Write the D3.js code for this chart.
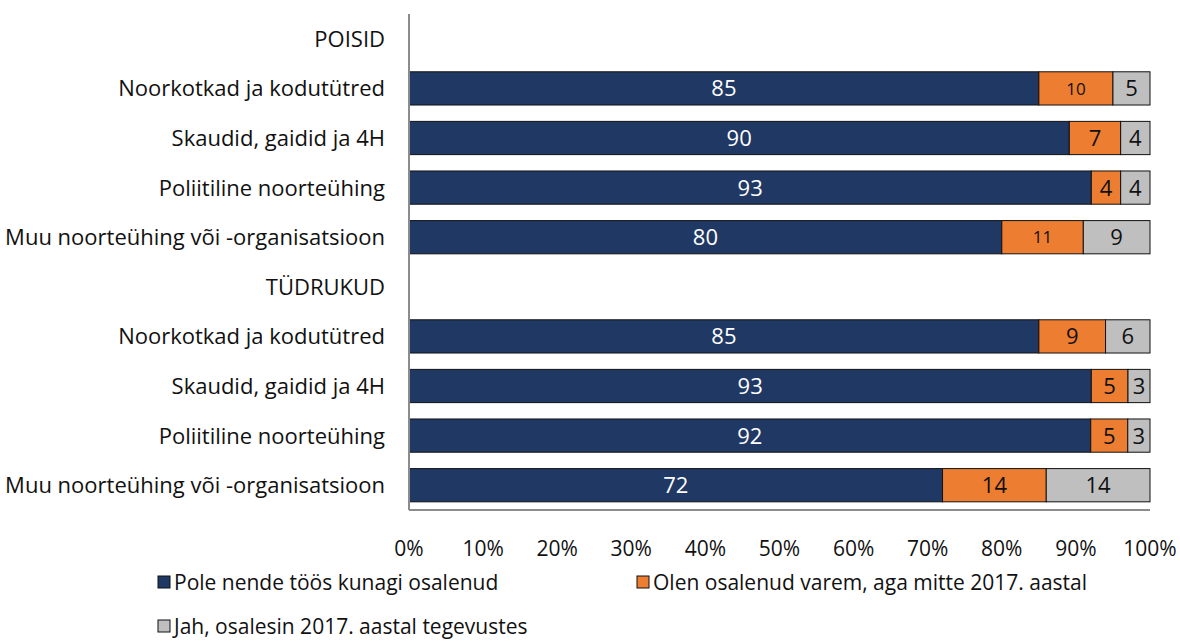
<!DOCTYPE html>
<html>
<head>
<meta charset="utf-8">
<script src="https://cdn.jsdelivr.net/npm/d3@7"></script>
<style>
  body { margin: 0; background: #fff; }
  svg text { font-family: "Open Sans", Lato, sans-serif; fill: #111; }
</style>
</head>
<body>
<svg id="chart" width="1180" height="642"></svg>
<script>
// rows, top to bottom; group headers have no values
const categories = [
    "POISID",
    "Noorkotkad ja kodutütred",
    "Skaudid, gaidid ja 4H",
    "Poliitiline noorteühing",
    "Muu noorteühing või -organisatsioon",
    "TÜDRUKUD",
    "Noorkotkad ja kodutütred ",
    "Skaudid, gaidid ja 4H ",
    "Poliitiline noorteühing ",
    "Muu noorteühing või -organisatsioon "
];
const headers = ["POISID", "TÜDRUKUD"];

const seriesNames = [
    "Pole nende töös kunagi osalenud",
    "Olen osalenud varem, aga mitte 2017. aastal",
    "Jah, osalesin 2017. aastal tegevustes"
];
const neverValues = [null, 85, 90, 93, 80, null, 85, 93, 92, 72];
const earlierValues = [null, 10, 7, 4, 11, null, 9, 5, 5, 14];
const in2017Values = [null, 5, 4, 4, 9, null, 6, 3, 3, 14];

const tickLabels = ["0%", "10%", "20%", "30%", "40%", "50%", "60%", "70%", "80%", "90%", "100%"];
const colors = ["#203864", "#ED7D31", "#BFBFBF"];

const svg = d3.select("#chart");
const margin = { top: 14, right: 30, bottom: 132, left: 409 };
const width = +svg.attr("width") - margin.left - margin.right;
const height = +svg.attr("height") - margin.top - margin.bottom;

const g = svg.append("g").attr("transform", `translate(${margin.left},${margin.top})`);

const y = d3.scaleBand().domain(categories).range([0, height]).paddingInner(0.33).paddingOuter(0.165);
const x = d3.scaleLinear().domain([0, 1]).range([0, width]);

const rows = categories.map((c, i) => ({
    cat: c,
    s0: neverValues[i] || 0,
    s1: earlierValues[i] || 0,
    s2: in2017Values[i] || 0
}));

// bars always fill 100%, values are rounded in the source
const stack = d3.stack().keys(["s0", "s1", "s2"]).offset(d3.stackOffsetExpand);
const stacked = stack(rows.filter(r => !headers.includes(r.cat)));

const layers = g.selectAll(".layer")
    .data(stacked)
    .join("g")
    .attr("class", "layer")
    .attr("fill", (d, i) => colors[i]);

layers.selectAll("rect")
    .data(d => d)
    .join("rect")
    .attr("x", d => x(d[0]))
    .attr("y", d => y(d.data.cat))
    .attr("width", d => x(d[1]) - x(d[0]))
    .attr("height", y.bandwidth())
    .attr("stroke", "#111")
    .attr("stroke-width", 1);

layers.each(function (layer, li) {
    d3.select(this).selectAll("text")
        .data(layer)
        .join("text")
        .attr("x", d => (x(d[0]) + x(d[1])) / 2)
        .attr("y", d => y(d.data.cat) + y.bandwidth() / 2)
        .attr("dy", "0.36em")
        .attr("text-anchor", "middle")
        .style("font-size", d => (li === 1 && d.data[layer.key] >= 10 && d.data[layer.key] < 12) ? "17px" : "22px")
        .style("fill", li === 0 ? "#fff" : "#111")
        .text(d => d.data[layer.key]);
});

// category labels
g.selectAll(".cat-label")
    .data(categories)
    .join("text")
    .attr("class", "cat-label")
    .attr("x", -24)
    .attr("y", d => y(d) + y.bandwidth() / 2)
    .attr("dy", "0.36em")
    .attr("text-anchor", "end")
    .style("font-size", "22px")
    .text(d => d.trim());

// axes lines
g.append("line")
    .attr("x1", 0).attr("x2", 0)
    .attr("y1", 0).attr("y2", height)
    .attr("stroke", "#8c8c8c").attr("stroke-width", 2);
g.append("line")
    .attr("x1", 0).attr("x2", width)
    .attr("y1", height).attr("y2", height)
    .attr("stroke", "#8c8c8c").attr("stroke-width", 2);

// x tick labels
const ticks = d3.range(0, 1.0001, 0.1);
g.selectAll(".tick-label")
    .data(ticks)
    .join("text")
    .attr("class", "tick-label")
    .attr("x", d => x(d))
    .attr("y", height + 38)
    .attr("dy", "0.36em")
    .attr("text-anchor", "middle")
    .style("font-size", "21px")
    .text((d, i) => tickLabels[i]);

// legend
const legendPos = [[158, 582], [637, 582], [158, 626]];
const legend = svg.selectAll(".legend")
    .data(seriesNames)
    .join("g")
    .attr("class", "legend")
    .attr("transform", (d, i) => `translate(${legendPos[i][0]},${legendPos[i][1]})`);

legend.append("rect")
    .attr("x", 0).attr("y", -6)
    .attr("width", 12).attr("height", 12)
    .attr("fill", (d, i) => colors[i])
    .attr("stroke", "#111");

legend.append("text")
    .attr("x", 16)
    .attr("dy", "0.36em")
    .style("font-size", "21px")
    .text(d => d);
</script>
</body>
</html>
